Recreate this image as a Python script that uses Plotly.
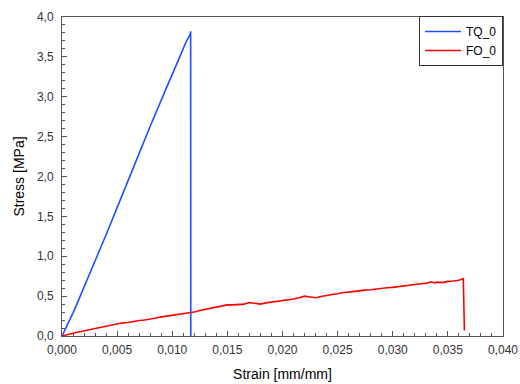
import plotly.graph_objects as go

# TQ_0 (blue)
tq_strain = [0.0, 0.0005, 0.001, 0.0015, 0.002, 0.003, 0.004, 0.005, 0.006, 0.007,
             0.008, 0.0085, 0.009, 0.0095, 0.010, 0.0105, 0.011, 0.0113, 0.0115,
             0.01162, 0.01167, 0.01168]
tq_stress = [0.0, 0.14, 0.29, 0.45, 0.61, 0.94, 1.27, 1.61, 1.94, 2.29,
             2.63, 2.80, 2.97, 3.12, 3.28, 3.45, 3.62, 3.70, 3.75,
             3.78, 3.82, 0.0]

# FO_0 (red)
fo_strain = [0.0, 0.0005, 0.001, 0.0015, 0.002, 0.0025, 0.003, 0.0035, 0.004, 0.0045,
             0.005, 0.0055, 0.006, 0.0065, 0.007, 0.0075, 0.008, 0.0085, 0.009, 0.0095,
             0.010, 0.0105, 0.011, 0.0115, 0.012, 0.0125, 0.013, 0.0135, 0.014, 0.0145,
             0.015, 0.0155, 0.016, 0.0165, 0.017, 0.0175, 0.018, 0.0185, 0.019, 0.0195,
             0.020, 0.0205, 0.021, 0.0215, 0.022, 0.0225, 0.023, 0.0235, 0.024, 0.0245,
             0.025, 0.0255, 0.026, 0.0265, 0.027, 0.0275, 0.028, 0.0285, 0.029, 0.0295,
             0.030, 0.0305, 0.031, 0.0315, 0.032, 0.0325, 0.033, 0.0335, 0.0338, 0.034,
             0.0345, 0.035, 0.0355, 0.036, 0.0364, 0.0365]
fo_stress = [0.0, 0.02, 0.035, 0.05, 0.065, 0.08, 0.095, 0.11, 0.125, 0.14,
             0.155, 0.165, 0.17, 0.185, 0.195, 0.20, 0.21, 0.225, 0.24, 0.25,
             0.255, 0.265, 0.28, 0.29, 0.30, 0.32, 0.335, 0.345, 0.365, 0.38,
             0.39, 0.39, 0.395, 0.40, 0.42, 0.41, 0.40, 0.415, 0.425, 0.43,
             0.445, 0.45, 0.465, 0.48, 0.50, 0.49, 0.48, 0.495, 0.51, 0.52,
             0.53, 0.545, 0.55, 0.56, 0.57, 0.575, 0.58, 0.59, 0.60, 0.605,
             0.61, 0.62, 0.63, 0.635, 0.645, 0.655, 0.66, 0.68, 0.665, 0.675,
             0.67, 0.685, 0.69, 0.70, 0.72, 0.07]

FONT = "Liberation Sans, Arial, sans-serif"

fig = go.Figure()
fig.add_trace(go.Scatter(x=tq_strain, y=tq_stress, mode="lines", name="TQ_0",
                         line=dict(color="#1f4fff", width=1.6)))
fig.add_trace(go.Scatter(x=fo_strain, y=fo_stress, mode="lines", name="FO_0",
                         line=dict(color="#ff0000", width=1.6)))

axis_common = dict(
    showgrid=False, zeroline=False, showline=True, linecolor="#555555", linewidth=1,
    mirror=True, ticks="inside", ticklen=5, tickcolor="#555555", automargin=False,
    tickfont=dict(family=FONT, size=12, color="#333333"),
)

fig.update_xaxes(range=[0, 0.04], dtick=0.005, tickformat=".3f", ticklabelstandoff=3,
                 minor=dict(dtick=0.001, ticks="inside", ticklen=3, tickcolor="#555555"),
                 title=dict(text="Strain [mm/mm]", standoff=12,
                            font=dict(family=FONT, size=14, color="#000000")),
                 **axis_common)
fig.update_yaxes(range=[0, 4], dtick=0.5, tickformat=".1f", ticklabelstandoff=5,
                 minor=dict(dtick=0.1, ticks="inside", ticklen=3, tickcolor="#555555"),
                 title=dict(text="Stress [MPa]", standoff=9,
                            font=dict(family=FONT, size=14, color="#000000")),
                 **axis_common)

fig.update_layout(
    width=520, height=384,
    margin=dict(l=62, r=17, t=17, b=48, autoexpand=False),
    paper_bgcolor="white", plot_bgcolor="white",
    separators=", ",
    legend=dict(x=1, xanchor="right", y=1.003, yanchor="top",
                bgcolor="white", bordercolor="#333333", borderwidth=1,
                font=dict(family=FONT, size=12, color="#000000"),
                itemwidth=36),
)

fig.write_html("out.html")
